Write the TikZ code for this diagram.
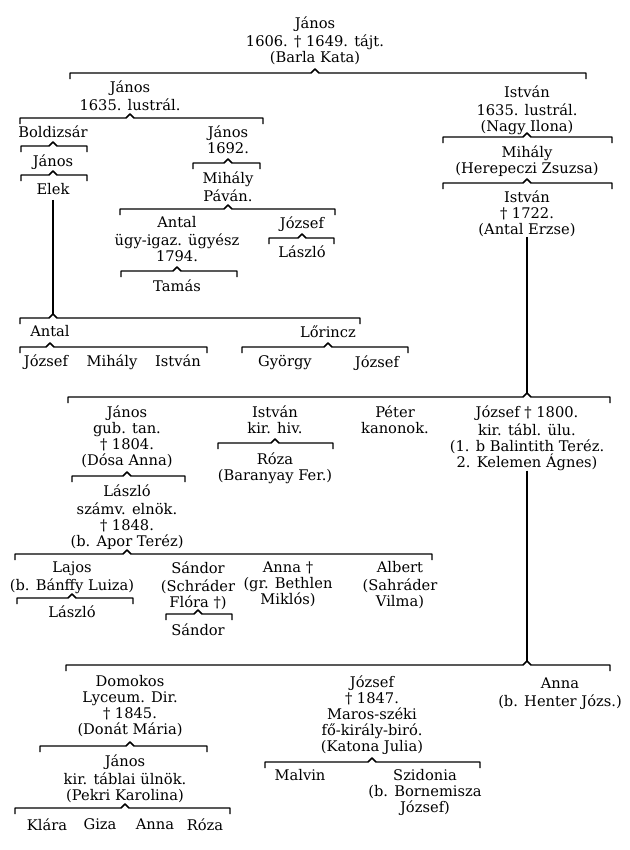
\documentclass[tikz,border=0pt]{standalone}
\usepackage{fontspec}
\setmainfont{DejaVu Serif}
\newcommand\pfont{\fontsize{11}{12}\selectfont}
\newcommand\fbrack[4]{%
  \coordinate (#1-n) at (#1.south |- 0,#2);
  \draw[brk] (#3,#2+6) -- (#3,#2) -- ([xshift=-3pt]#1-n) -- ([yshift=3pt]#1-n) -- ([xshift=3pt]#1-n) -- (#4,#2) -- (#4,#2+6);
}
\begin{document}
\begin{tikzpicture}[x=0.75pt,y=-0.75pt,
  person/.style={anchor=north,yshift=5pt,align=center,inner sep=0pt,font=\pfont},
  brk/.style={line width=1.1pt,line join=round},
  conn/.style={line width=1.1pt}]
\fill[white] (0,0) rectangle (630,850);
\useasboundingbox (0,0) rectangle (630,850);
% generation 1
\node[person] (T) at (315,23) {\strut János\\1606. † 1649. tájt.\\(Barla Kata)};
\fbrack{T}{73}{70}{586}
\node[person] (J1) at (130,87) {\strut János\\1635. lustrál.};
\node[person] (I2) at (527,92) {\strut István\\1635. lustrál.\\(Nagy Ilona)};
% left branch
\fbrack{J1}{118}{20}{263}
\node[person] (Bold) at (53,132) {\strut Boldizsár};
\node[person] (J1692) at (228,132) {\strut János\\1692.};
\fbrack{Bold}{146}{21}{87}
\node[person] (JanosB) at (53,161) {\strut János};
\fbrack{JanosB}{175}{21}{87}
\node[person] (Elek) at (53,190) {\strut Elek};
\fbrack{J1692}{163}{193}{260}
\node[person] (Mih1) at (228,178) {\strut Mihály\\Páván.};
\fbrack{Mih1}{209}{120}{335}
\node[person] (AntalU) at (177,223) {\strut Antal\\ügy-igaz. ügyész\\1794.};
\node[person] (JozsefL) at (302,223) {\strut József};
\fbrack{JozsefL}{238}{269}{334}
\node[person] (LaszloL) at (302,252) {\strut László};
\fbrack{AntalU}{271}{121}{237}
\node[person] (Tamas) at (177,286) {\strut Tamás};
\fbrack{Elek}{318}{20}{360}
\draw[conn] (Elek.south) -- ([yshift=3pt]Elek-n);
\node[person] (Antal2) at (50,332) {\strut Antal};
\node[person] (Lorincz) at (328,332) {\strut Lőrincz};
\fbrack{Antal2}{347}{20}{207}
\node[person] (Jozsef2) at (46,361) {\strut József};
\node[person] (Mihaly2) at (112,361) {\strut Mihály};
\node[person] (Istvan2) at (178,361) {\strut István};
\fbrack{Lorincz}{347}{242}{408}
\node[person] (Gyorgy) at (285,362) {\strut György};
\node[person] (Jozsef3) at (377,362) {\strut József};
% right branch
\fbrack{I2}{137}{443}{612}
\node[person] (Mih2) at (527,152) {\strut Mihály\\(Herepeczi Zsuzsa)};
\fbrack{Mih2}{183}{443}{612}
\node[person] (Ist3) at (527,197) {\strut István\\† 1722.\\(Antal Erzse)};
\fbrack{Ist3}{397}{68}{610}
\draw[conn] (Ist3.south) -- ([yshift=3pt]Ist3-n);
\node[person] (Janos3) at (127,412) {\strut János\\gub. tan.\\† 1804.\\(Dósa Anna)};
\node[person] (Ist4) at (275,412) {\strut István\\kir. hiv.};
\node[person] (Peter) at (395,412) {\strut Péter\\kanonok.};
\node[person] (Joz1800) at (527,412) {\strut József † 1800.\\kir. tábl. ülu.\\(1. b Balintith Teréz.\\2. Kelemen Ágnes)};
\fbrack{Ist4}{443}{218}{333}
\node[person] (Roza) at (275,459) {\strut Róza\\(Baranyay Fer.)};
\fbrack{Janos3}{476}{72}{185}
\node[person] (Laszlo2) at (127,491) {\strut László\\számv. elnök.\\† 1848.\\(b. Apor Teréz)};
\fbrack{Laszlo2}{554}{15}{432}
\node[person] (Lajos) at (72,568) {\strut Lajos\\(b. Bánffy Luiza)};
\node[person] (Sandor) at (198,568) {\strut Sándor\\(Schráder\\Flóra †)};
\node[person] (AnnaB) at (288,568) {\strut Anna †\\(gr. Bethlen\\Miklós)};
\node[person] (Albert) at (400,568) {\strut Albert\\(Sahráder\\Vilma)};
\fbrack{Lajos}{598}{17}{133}
\node[person] (Laszlo3) at (72,612) {\strut László};
\fbrack{Sandor}{614}{166}{232}
\node[person] (Sandor2) at (198,630) {\strut Sándor};
\fbrack{Joz1800}{665}{66}{610}
\draw[conn] (Joz1800.south) -- ([yshift=3pt]Joz1800-n);
\node[person] (Domokos) at (130,682) {\strut Domokos\\Lyceum. Dir.\\† 1845.\\(Donát Mária)};
\node[person] (Joz1847) at (372,682) {\strut József\\† 1847.\\Maros-széki\\fő-király-biró.\\(Katona Julia)};
\node[person] (Anna2) at (560,684) {\strut Anna\\(b. Henter Józs.)};
\fbrack{Domokos}{746}{40}{207}
\node[person] (Janos4) at (125,761) {\strut János\\kir. táblai ülnök.\\(Pekri Karolina)};
\fbrack{Janos4}{808}{15}{230}
\node[person] (Klara) at (47,825) {\strut Klára};
\node[person] (Giza) at (100,825) {\strut Giza};
\node[person] (Anna3) at (155,825) {\strut Anna};
\node[person] (Roza2) at (205,825) {\strut Róza};
\fbrack{Joz1847}{762}{265}{480}
\node[person] (Malvin) at (300,776) {\strut Malvin};
\node[person] (Szid) at (425,776) {\strut Szidonia\\(b. Bornemisza\\József)};
\end{tikzpicture}
\end{document}
